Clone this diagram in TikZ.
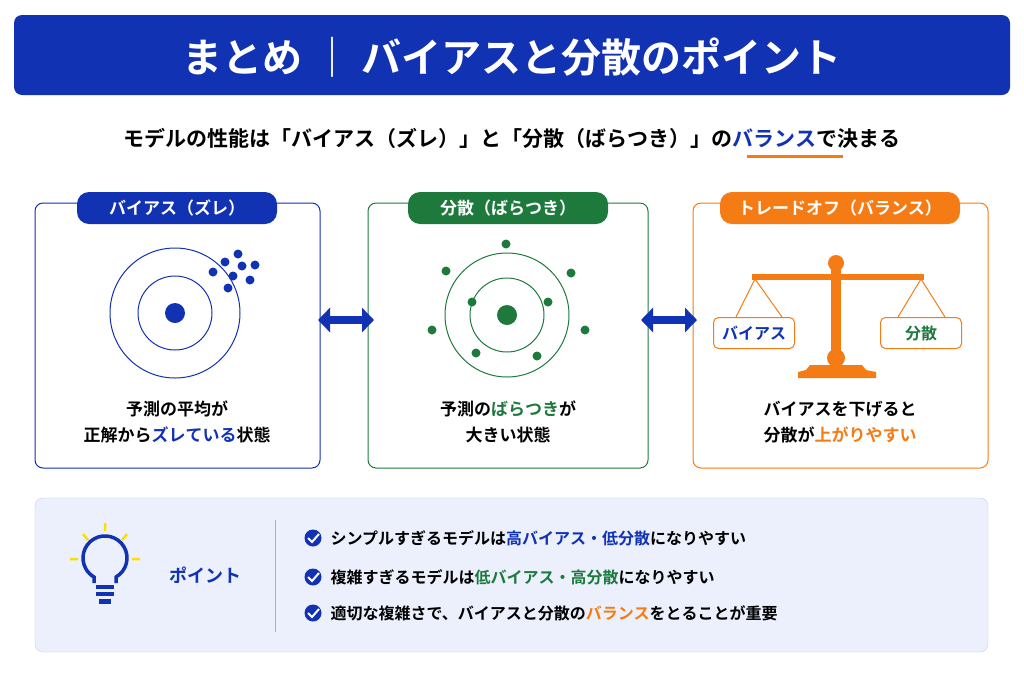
\documentclass[tikz,border=0pt]{standalone}
\usepackage{fontspec}
\setmainfont{Noto Sans CJK JP}[BoldFont={Noto Sans CJK JP Bold}]
\usetikzlibrary{arrows.meta,positioning}
\definecolor{cblue}{HTML}{1232B4}
\definecolor{cgreen}{HTML}{1E7A3C}
\definecolor{corange}{HTML}{F57C14}
\definecolor{cpale}{HTML}{EBF0FC}
\tikzset{
  panel/.style={draw=#1, line width=1pt, rounded corners=8pt},
  tab/.style={fill=#1, text=white, rounded corners=12pt, minimum width=200pt,
    minimum height=32pt, font=\bfseries\fontsize{17}{17}\selectfont},
  body/.style={align=center, font=\bfseries\fontsize{17}{26}\selectfont},
  bullet/.style={anchor=west, font=\bfseries\fontsize{16}{16}\selectfont},
  chk/.style={circle, fill=cblue, minimum size=17pt, inner sep=0pt},
  dbl/.style={{Triangle[length=12pt,width=24pt]}-{Triangle[length=12pt,width=24pt]}, line width=8pt, cblue}
}
\begin{document}
\begin{tikzpicture}[x=1pt,y=-1pt]
\useasboundingbox (0,0) rectangle (1024,683);
\fill[white] (0,0) rectangle (1024,683);

% title
\fill[cblue, rounded corners=8pt] (14,15) rectangle (1010,95);
\node[text=white, font=\bfseries\fontsize{40}{40}\selectfont] (title) at (512,57) {まとめ ｜ バイアスと分散のポイント};
\node[font=\bfseries\fontsize{21}{21}\selectfont] (sub) at (512,138)
  {モデルの性能は「バイアス（ズレ）」と「分散（ばらつき）」の\textcolor{cblue}{バランス}で決まる};
\draw[corange, line width=3pt] (747,156) -- (843,156);

% panels
\draw[panel=cblue] (35,203) rectangle (320,468);
\draw[panel=cgreen] (368,203) rectangle (648,468);
\draw[panel=corange] (693,203) rectangle (988,468);
\node[tab=cblue] (tab1) at (177,208) {バイアス（ズレ）};
\node[tab=cgreen] (tab2) at (508,208) {分散（ばらつき）};
\node[tab=corange, minimum width=240pt] (tab3) at (840,208) {トレードオフ（バランス）};

% bias target
\draw[cblue, line width=1pt] (175,313) circle (65) (175,313) circle (37);
\fill[cblue] (175,313) circle (10);
\foreach \p in {(238,254),(225,262),(242,266),(255,265),(213,272),(233,276),(250,280),(228,288)}
  \fill[cblue] \p circle (4.5);

% variance target
\draw[cgreen, line width=1pt] (507,315) circle (62) (507,315) circle (37);
\fill[cgreen] (507,315) circle (10);
\foreach \p in {(506,244),(571,273),(585,330),(537,356),(446,271),(432,330),(476,353),(548,302),(472,302)}
  \fill[cgreen] \p circle (4.5);

% arrows
\coordinate (a1) at (318,320); \coordinate (a2) at (374,320);
\coordinate (b1) at (641,320); \coordinate (b2) at (697,320);
\draw[dbl] (a1) -- (a2);
\draw[dbl] (b1) -- (b2);

% scale
\begin{scope}[corange]
\fill (836,263) circle (8);
\fill (752,274) rectangle (924,280);
\fill (831,266) rectangle (841,360);
\fill (836,358) circle (9);
\fill (810,365) -- (862,365) -- (866,370) -- (876,372) -- (876,378) -- (798,378) -- (798,372) -- (806,370) -- cycle;
\draw[line width=1pt] (736,317) -- (755,279) -- (782,317);
\draw[line width=1pt] (898,317) -- (921,279) -- (945,317);
\end{scope}
\node[panel=corange, rounded corners=5pt, fill=white, minimum width=81pt, minimum height=31pt,
  text=cblue, font=\bfseries\fontsize{16}{16}\selectfont] (lbox) at (754,333) {バイアス};
\node[panel=corange, rounded corners=5pt, fill=white, minimum width=81pt, minimum height=31pt,
  text=cgreen, font=\bfseries\fontsize{16}{16}\selectfont] (rbox) at (921,333) {分散};

% captions
\node[body] (txt1) at (177,422) {予測の平均が\\正解から\textcolor{cblue}{ズレている}状態};
\node[body] (txt2) at (508,422) {予測の\textcolor{cgreen}{ばらつき}が\\大きい状態};
\node[body] (txt3) at (840,422) {バイアスを下げると\\分散が\textcolor{corange}{上がりやすい}};

% point box
\draw[fill=cpale, draw=cblue!25, rounded corners=8pt] (35,498) rectangle (988,652);
\begin{scope}[cblue, line width=3.5pt]
\draw (116,583) -- (116,577) arc[start angle=60, end angle=-240, radius=22] -- (94,583);
\draw (96,587) -- (114,587) (96,594) -- (114,594);
\fill (99,599) rectangle (111,604);
\end{scope}
\begin{scope}[yellow!80!orange, line width=2.5pt]
\draw (105,523) -- (105,531) (83,534) -- (88,540) (127,534) -- (122,540)
  (70,559) -- (78,559) (132,559) -- (140,559);
\end{scope}
\node[text=cblue, font=\bfseries\fontsize{18}{18}\selectfont] (pt) at (205,575) {ポイント};
\draw[cblue!40, line width=1pt] (275,520) -- (275,632);
\foreach \y/\t in {538/シンプルすぎるモデルは\textcolor{cblue}{高バイアス・低分散}になりやすい,
                   577/複雑すぎるモデルは\textcolor{cgreen}{低バイアス・高分散}になりやすい,
                   613/適切な複雑さで、バイアスと分散の\textcolor{corange}{バランス}をとることが重要}{
  \node[chk] (c\y) at (313,\y) {};
  \draw[white, line width=2pt] (308,\y) -- (312,\y+4) -- (319,\y-4);
  \node[bullet] (t\y) at (327,\y) {\t};
}
\end{tikzpicture}
\end{document}
